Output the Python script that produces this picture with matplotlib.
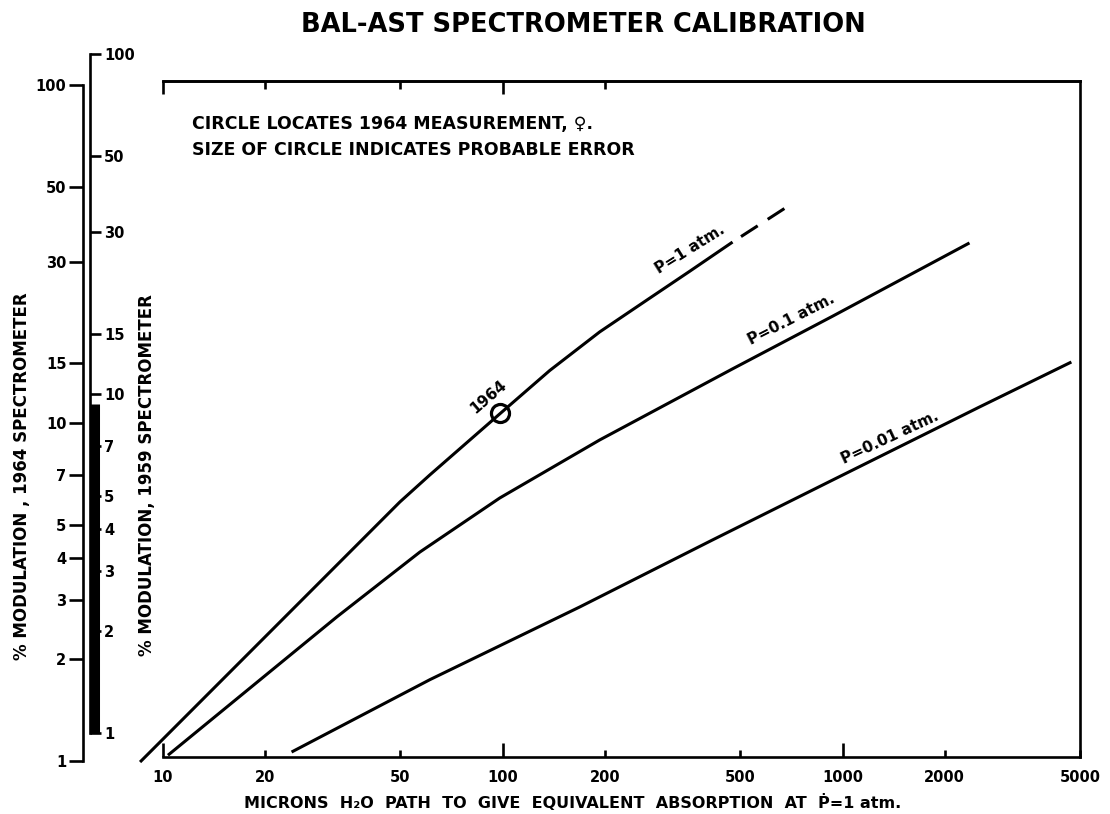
import matplotlib
matplotlib.use("Agg")
import matplotlib.pyplot as plt
from matplotlib import transforms
from matplotlib.ticker import NullLocator

plt.rcParams['font.family'] = ['DejaVu Sans']
plt.rcParams['font.weight'] = 'bold'

W, H = 1110, 814

# ---------------- data ----------------
# P = 1 atm (solid part) and its dashed extrapolation
p1_x = [8.56, 49.8, 61, 98.4, 137.5, 192.9, 270.6, 354.8, 474.6]
p1_y = [0.993, 5.84, 7.02, 10.68, 14.3, 18.6, 23.4, 28.1, 34.3]
p1_ext_x = [474.6, 684]
p1_ext_y = [34.3, 43.5]

# P = 0.1 atm
p01_x = [10.34, 32.5, 57.0, 98, 192.9, 474, 935, 2364]
p01_y = [1.04, 2.67, 4.15, 6.0, 8.91, 14.45, 20.7, 34.1]

# P = 0.01 atm
p001_x = [23.9, 61, 168.4, 414.7, 935, 2529, 4716]
p001_y = [1.063, 1.74, 2.855, 4.51, 6.78, 11.15, 15.15]

# 1964 measurement
meas_x = [98.4]
meas_y = [10.68]

x_major = [10, 100, 1000]
x_minor = [20, 50, 200, 500, 2000, 5000]
top_major = [10, 100]
top_minor = [20, 50, 200]
y1964_ticks = [1, 2, 3, 4, 5, 7, 10, 15, 30, 50, 100]
y1959_ticks = [1, 2, 3, 4, 5, 7, 10, 15, 30, 50, 100]
bar1959 = [1.0, 9.3]

# ---------------- layout helpers ----------------
def box(l, t, r, b):
    return [l / W, 1 - b / H, (r - l) / W, (b - t) / H]

def fx(x):
    return x / W

def fy(y):
    return 1 - y / H

LW = 1.9
CLW = 2.2

fig = plt.figure(figsize=(W / 100, H / 100), dpi=100)
fig.patch.set_facecolor('white')

# ---------------- main axes ----------------
ax = fig.add_axes(box(163, 81, 1080, 757))
ax.set_xscale('log')
ax.set_yscale('log')
ax.set_xlim(10, 5000)
ppd, y0px = 338.0, 761
ax.set_ylim(10 ** ((y0px - 757) / ppd), 10 ** ((y0px - 81) / ppd))
ax.patch.set_visible(False)
ax.spines['left'].set_visible(False)
for s in ['top', 'right', 'bottom']:
    ax.spines[s].set_linewidth(LW)
ax.yaxis.set_major_locator(NullLocator())
ax.yaxis.set_minor_locator(NullLocator())
ax.set_xticks(x_major, [str(v) for v in x_major])
ax.set_xticks(x_minor, [str(v) for v in x_minor], minor=True)
ax.tick_params(axis='x', which='major', direction='in', length=10, width=LW,
               pad=9, labelsize=10.5)
ax.tick_params(axis='x', which='minor', direction='in', length=5, width=LW,
               pad=9, labelsize=10.5)

sec = ax.secondary_xaxis('top')
sec.set_xticks(top_major)
sec.set_xticks(top_minor, minor=True)
sec.tick_params(axis='x', which='major', direction='in', length=9, width=LW,
                labeltop=False)
sec.tick_params(axis='x', which='minor', direction='in', length=6, width=LW,
                labeltop=False)
sec.spines['top'].set_linewidth(LW)

ax.plot(p1_x, p1_y, color='black', lw=CLW, clip_on=False,
        solid_joinstyle='round', solid_capstyle='butt')
ax.plot(p1_ext_x, p1_ext_y, color='black', lw=CLW, clip_on=False,
        ls=(7.1, (6.5, 3.9)))
ax.plot(p01_x, p01_y, color='black', lw=CLW, clip_on=False,
        solid_joinstyle='round', solid_capstyle='butt')
ax.plot(p001_x, p001_y, color='black', lw=CLW, clip_on=False,
        solid_joinstyle='round', solid_capstyle='butt')
ax.plot(meas_x, meas_y, 'o', ms=13, mfc='none', mec='black', mew=2.3,
        clip_on=False)

# curve labels
lab_kw = dict(ha='center', va='center', rotation_mode='anchor', fontsize=11,
              fontweight='bold')
fig.text(fx(489), fy(397), '1964', rotation=40.6, **lab_kw)
fig.text(fx(690), fy(249), 'P=1 atm.', rotation=32, **lab_kw)
fig.text(fx(791), fy(319), 'P=0.1 atm.', rotation=27, **lab_kw)
fig.text(fx(890), fy(438), 'P=0.01 atm.', rotation=25, **lab_kw)

# ---------------- 1964 scale ----------------
ax64 = fig.add_axes(box(83, 85, 84, 761))
ax64.set_yscale('log')
ax64.set_ylim(1, 100)
ax64.patch.set_visible(False)
for s in ['top', 'right', 'bottom']:
    ax64.spines[s].set_visible(False)
ax64.spines['left'].set_linewidth(LW)
ax64.set_xticks([])
ax64.set_yticks(y1964_ticks, [str(v) for v in y1964_ticks])
ax64.yaxis.set_minor_locator(NullLocator())
ax64.tick_params(axis='y', direction='out', length=10, width=LW, pad=2,
                 labelsize=10.5)

# ---------------- 1959 scale ----------------
ax59 = fig.add_axes(box(89, 54, 90, 733))
ax59.set_yscale('log')
ax59.set_ylim(1, 100)
ax59.patch.set_visible(False)
for s in ['top', 'left', 'bottom']:
    ax59.spines[s].set_visible(False)
ax59.spines['right'].set_linewidth(LW)
ax59.set_xticks([])
ax59.yaxis.tick_right()
ax59.set_yticks(y1959_ticks, [str(v) for v in y1959_ticks])
ax59.yaxis.set_minor_locator(NullLocator())
ax59.tick_params(axis='y', direction='out', length=8, width=LW, pad=2,
                 labelsize=10.5)
tr = transforms.blended_transform_factory(fig.transFigure, ax59.transData)
ax59.plot([fx(94.5), fx(94.5)], bar1959, transform=tr, color='black', lw=6.5,
          solid_capstyle='butt', clip_on=False)

# ---------------- texts ----------------
fig.text(fx(583), fy(25), 'BAL-AST SPECTROMETER CALIBRATION', ha='center',
         va='center', fontsize=18.5, fontweight='bold')
fig.text(fx(192), fy(124), 'CIRCLE LOCATES 1964 MEASUREMENT, \u2640.',
         ha='left', va='center', fontsize=12.5, fontweight='bold')
fig.text(fx(192), fy(150), 'SIZE OF CIRCLE INDICATES PROBABLE ERROR',
         ha='left', va='center', fontsize=12.5, fontweight='bold')
fig.text(fx(22), fy(476), '% MODULATION , 1964 SPECTROMETER', rotation=90,
         ha='center', va='center', fontsize=12, fontweight='bold')
fig.text(fx(147), fy(475), '% MODULATION, 1959 SPECTROMETER', rotation=90,
         ha='center', va='center', fontsize=12, fontweight='bold')
fig.text(fx(573), fy(802),
         'MICRONS  H\u2082O  PATH  TO  GIVE  EQUIVALENT  ABSORPTION  AT  \u1E56=1 atm.',
         ha='center', va='center', fontsize=11.5, fontweight='bold')

fig.savefig('out.png', dpi=100, facecolor='white')
